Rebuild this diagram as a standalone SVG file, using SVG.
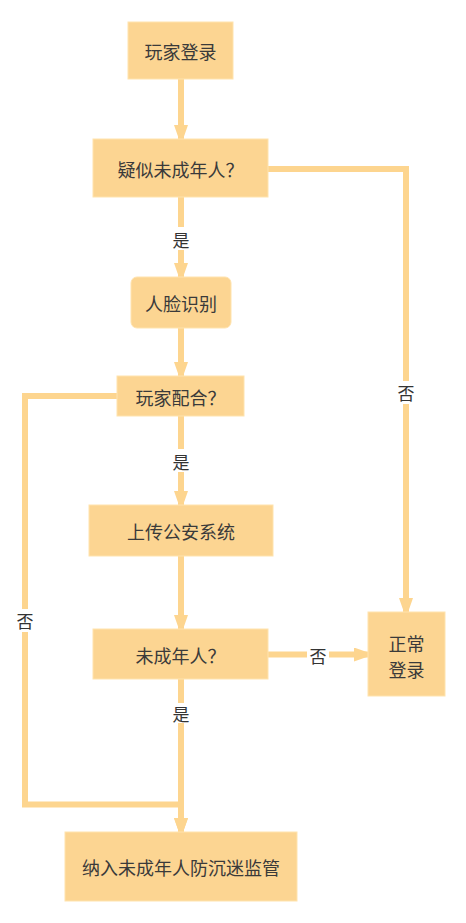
<svg xmlns="http://www.w3.org/2000/svg" width="466" height="923" viewBox="0 0 466 923">
<style>
.box{fill:#FCD592;stroke:#FFE3AE;stroke-width:1}
.t{font-family:"Noto Sans CJK SC","Noto Sans",sans-serif;font-size:18px;fill:#3a3a3a;text-anchor:middle;dominant-baseline:central}
.lbl{font-family:"Noto Sans CJK SC","Noto Sans",sans-serif;font-size:17px;fill:#333;text-anchor:middle;dominant-baseline:central}
.ln{fill:none;stroke:#FDD58F;stroke-width:6;stroke-linejoin:miter}
.bg{fill:#fff}
</style>
<defs>
<marker id="ah" markerUnits="userSpaceOnUse" markerWidth="20" markerHeight="14" refX="14" refY="7" orient="auto">
<path d="M0,0 L20,7 L0,14 z" fill="#FDD58F"/>
</marker>
</defs>
<rect width="466" height="923" fill="#fff"/>
<g id="connectors">
<path class="ln" d="M181,79 V139" marker-end="url(#ah)"/>
<path class="ln" d="M181,197 V277" marker-end="url(#ah)"/>
<path class="ln" d="M268,169 H406 V612" marker-end="url(#ah)"/>
<path class="ln" d="M181,328 V376" marker-end="url(#ah)"/>
<path class="ln" d="M181,416 V505" marker-end="url(#ah)"/>
<path class="ln" d="M117,396 H25 V804.5 H181 V832" marker-end="url(#ah)"/>
<path class="ln" d="M181,556 V629" marker-end="url(#ah)"/>
<path class="ln" d="M268,654.5 H368" marker-end="url(#ah)"/>
<path class="ln" d="M181,679 V832" marker-end="url(#ah)"/>
<rect class="bg" x="170" y="227" width="22" height="23"/>
<text class="lbl" x="181" y="239">是</text>
<rect class="bg" x="395" y="381" width="22" height="23"/>
<text class="lbl" x="406" y="392">否</text>
<rect class="bg" x="170" y="449" width="22" height="23"/>
<text class="lbl" x="181" y="461">是</text>
<rect class="bg" x="14" y="609" width="22" height="23"/>
<text class="lbl" x="25" y="620">否</text>
<rect class="bg" x="307" y="645" width="22" height="22"/>
<text class="lbl" x="318" y="655">否</text>
<rect class="bg" x="170" y="703" width="22" height="20"/>
<text class="lbl" x="181" y="713">是</text>
</g>
<g id="n1"><rect class="box" x="128" y="22" width="105" height="57"/><text class="t" x="180.5" y="51">玩家登录</text></g>
<g id="n2"><rect class="box" x="93" y="139" width="175" height="58"/><text class="t" x="180.5" y="169">疑似未成年人？</text></g>
<g id="n3"><rect class="box" x="131" y="277" width="100" height="51" rx="6"/><text class="t" x="181" y="303">人脸识别</text></g>
<g id="n4"><rect class="box" x="117" y="376" width="127" height="40"/><text class="t" x="180.5" y="397">玩家配合？</text></g>
<g id="n5"><rect class="box" x="89" y="505" width="184" height="51"/><text class="t" x="181" y="531">上传公安系统</text></g>
<g id="n6"><rect class="box" x="93" y="629" width="175" height="50"/><text class="t" x="180.5" y="655">未成年人？</text></g>
<g id="n7"><rect class="box" x="368" y="612" width="77" height="84"/><text class="t" x="406.5" y="642.5">正常</text><text class="t" x="406.5" y="668.5">登录</text></g>
<g id="n8"><rect class="box" x="65" y="832" width="232" height="69"/><text class="t" x="181" y="867">纳入未成年人防沉迷监管</text></g>
</svg>
